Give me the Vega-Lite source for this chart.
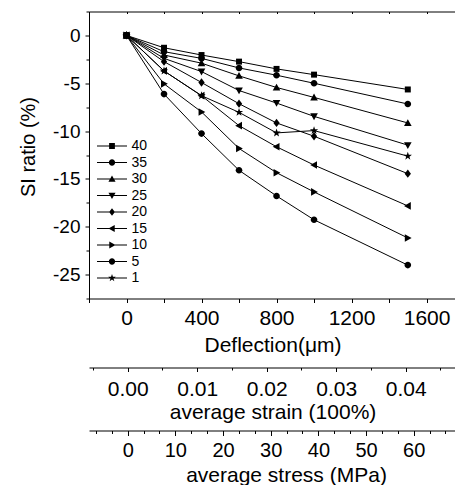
{
  "$schema": "https://vega.github.io/schema/vega-lite/v6.json",
  "padding": {"left": 18, "top": 10.5, "right": 0, "bottom": 6},
  "bounds": "flush",
  "spacing": 62,
  "config": {
    "view": {"stroke": null},
    "font": "Liberation Sans",
    "axis": {"domainColor": "black", "tickColor": "black", "labelColor": "black", "titleColor": "black", "grid": false, "labelFont": "Liberation Sans", "titleFont": "Liberation Sans", "titleFontWeight": "normal", "domainWidth": 1, "tickWidth": 1}
  },
  "datasets": {
    "main": [
      {"s": "40", "d": 0, "r": 0}, {"s": "40", "d": 200, "r": -1.29}, {"s": "40", "d": 400, "r": -2.05}, {"s": "40", "d": 600, "r": -2.74}, {"s": "40", "d": 800, "r": -3.5}, {"s": "40", "d": 1000, "r": -4.1}, {"s": "40", "d": 1500, "r": -5.65},
      {"s": "35", "d": 0, "r": 0}, {"s": "35", "d": 200, "r": -1.7}, {"s": "35", "d": 400, "r": -2.4}, {"s": "35", "d": 600, "r": -3.4}, {"s": "35", "d": 800, "r": -4.16}, {"s": "35", "d": 1000, "r": -5.0}, {"s": "35", "d": 1500, "r": -7.17},
      {"s": "30", "d": 0, "r": 0}, {"s": "30", "d": 200, "r": -2.05}, {"s": "30", "d": 400, "r": -2.9}, {"s": "30", "d": 600, "r": -4.23}, {"s": "30", "d": 800, "r": -5.44}, {"s": "30", "d": 1000, "r": -6.48}, {"s": "30", "d": 1500, "r": -9.15},
      {"s": "25", "d": 0, "r": 0}, {"s": "25", "d": 200, "r": -2.4}, {"s": "25", "d": 400, "r": -3.78}, {"s": "25", "d": 600, "r": -5.76}, {"s": "25", "d": 800, "r": -7.07}, {"s": "25", "d": 1000, "r": -8.46}, {"s": "25", "d": 1500, "r": -11.47},
      {"s": "20", "d": 0, "r": 0}, {"s": "20", "d": 200, "r": -2.74}, {"s": "20", "d": 400, "r": -4.92}, {"s": "20", "d": 600, "r": -7.14}, {"s": "20", "d": 800, "r": -9.15}, {"s": "20", "d": 1000, "r": -10.54}, {"s": "20", "d": 1500, "r": -14.45},
      {"s": "15", "d": 0, "r": 0}, {"s": "15", "d": 200, "r": -3.71}, {"s": "15", "d": 400, "r": -6.3}, {"s": "15", "d": 600, "r": -9.43}, {"s": "15", "d": 800, "r": -11.64}, {"s": "15", "d": 1000, "r": -13.55}, {"s": "15", "d": 1500, "r": -17.82},
      {"s": "10", "d": 0, "r": 0}, {"s": "10", "d": 200, "r": -5.06}, {"s": "10", "d": 400, "r": -8.0}, {"s": "10", "d": 600, "r": -11.82}, {"s": "10", "d": 800, "r": -14.35}, {"s": "10", "d": 1000, "r": -16.36}, {"s": "10", "d": 1500, "r": -21.17},
      {"s": "5", "d": 0, "r": 0}, {"s": "5", "d": 200, "r": -6.13}, {"s": "5", "d": 400, "r": -10.26}, {"s": "5", "d": 600, "r": -14.1}, {"s": "5", "d": 800, "r": -16.78}, {"s": "5", "d": 1000, "r": -19.27}, {"s": "5", "d": 1500, "r": -24.01},
      {"s": "1", "d": 0, "r": 0}, {"s": "1", "d": 200, "r": -3.71}, {"s": "1", "d": 400, "r": -6.3}, {"s": "1", "d": 600, "r": -8.04}, {"s": "1", "d": 800, "r": -10.19}, {"s": "1", "d": 1000, "r": -9.95}, {"s": "1", "d": 1500, "r": -12.62}
    ],
    "strain": [{"v": 0}, {"v": 0.04}],
    "stress": [{"v": 0}, {"v": 60}]
  },
  "vconcat": [
    {
      "width": 367,
      "height": 287,
      "data": {"name": "main"},
      "encoding": {
        "y": {
          "field": "r", "type": "quantitative",
          "scale": {"domain": [-27.5, 2.5], "nice": false, "zero": false},
          "axis": {
            "orient": "left",
            "values": [2.5, 0, -2.5, -5, -7.5, -10, -12.5, -15, -17.5, -20, -22.5, -25, -27.5],
            "labelExpr": "datum.value % 5 === 0 ? (datum.value < 0 ? '-' + abs(datum.value) : '' + datum.value) : ''",
            "tickSize": {"condition": {"test": "datum.value % 5 === 0", "value": 4}, "value": 3},
            "labelFontSize": 19,
            "labelPadding": 5,
            "title": "SI ratio (%)",
            "titleFontSize": 20,
            "titleX": -54.5,
            "titleY": 135,
            "titleBaseline": "alphabetic"
          }
        }
      },
      "layer": [
        {
          "mark": {"type": "line", "color": "black", "strokeWidth": 1},
          "encoding": {
            "x": {
              "field": "d", "type": "quantitative",
              "scale": {"domain": [-200, 1757], "nice": false, "zero": false},
              "axis": {
                "orient": "bottom",
                "values": [-200, 0, 200, 400, 600, 800, 1000, 1200, 1400, 1600],
                "labelExpr": "datum.value % 400 === 0 ? '' + datum.value : ''",
                "tickSize": 4,
                "labelFontSize": 21,
                "labelPadding": 4.5,
                "title": "Deflection(μm)",
                "titleFontSize": 21,
                "titleBaseline": "alphabetic",
                "titleY": 52.5
              }
            },
            "detail": {"field": "s"}
          }
        },
        {
          "mark": {"type": "point", "filled": true, "color": "black", "opacity": 1, "size": 44},
          "encoding": {
            "x": {
              "field": "d", "type": "quantitative",
              "axis": {
                "orient": "top",
                "values": [-200, 0, 200, 400, 600, 800, 1000, 1200, 1400, 1600],
                "labels": false,
                "tickSize": -2,
                "title": null
              }
            },
            "shape": {
              "field": "s", "type": "nominal",
              "scale": {
                "domain": ["40", "35", "30", "25", "20", "15", "10", "5", "1"],
                "range": [
                  "M-0.9,-0.9H0.9V0.9H-0.9Z",
                  "M1,0A1,1,0,1,1,-1,0A1,1,0,1,1,1,0Z",
                  "M0,-1.15L1.15,0.9H-1.15Z",
                  "M0,1.15L-1.15,-0.9H1.15Z",
                  "M0,-1.25L0.95,0L0,1.25L-0.95,0Z",
                  "M-1.15,0L0.9,-1.15V1.15Z",
                  "M1.15,0L-0.9,1.15V-1.15Z",
                  "M1,0A1,1,0,1,1,-1,0A1,1,0,1,1,1,0Z",
                  "M0,-1.3L0.306,-0.421L1.236,-0.402L0.495,0.161L0.764,1.052L0,0.52L-0.764,1.052L-0.495,0.161L-1.236,-0.402L-0.306,-0.421Z"
                ]
              },
              "legend": null
            }
          }
        },
        {
          "transform": [{"filter": "false"}],
          "mark": {"type": "point", "filled": true, "color": "black", "opacity": 1, "size": 289},
          "encoding": {
            "shape": {
              "field": "s", "type": "nominal",
              "scale": {
                "domain": ["40", "35", "30", "25", "20", "15", "10", "5", "1"],
                "range": [
                  "M-1.765,-0.06H1.765V0.06H-1.765ZM-0.34,-0.34H0.34V0.34H-0.34Z",
                  "M-1.765,-0.06H1.765V0.06H-1.765ZM0.37,0A0.37,0.37,0,1,1,-0.37,0A0.37,0.37,0,1,1,0.37,0Z",
                  "M-1.765,-0.06H1.765V0.06H-1.765ZM0,-0.42L0.42,0.32H-0.42Z",
                  "M-1.765,-0.06H1.765V0.06H-1.765ZM0,0.42L-0.42,-0.32H0.42Z",
                  "M-1.765,-0.06H1.765V0.06H-1.765ZM0,-0.45L0.34,0L0,0.45L-0.34,0Z",
                  "M-1.765,-0.06H1.765V0.06H-1.765ZM-0.42,0L0.32,-0.42V0.42Z",
                  "M-1.765,-0.06H1.765V0.06H-1.765ZM0.42,0L-0.32,0.42V-0.42Z",
                  "M-1.765,-0.06H1.765V0.06H-1.765ZM0.37,0A0.37,0.37,0,1,1,-0.37,0A0.37,0.37,0,1,1,0.37,0Z",
                  "M-1.765,-0.06H1.765V0.06H-1.765ZM0,-0.47L0.11,-0.152L0.447,-0.145L0.178,0.058L0.276,0.38L0,0.188L-0.276,0.38L-0.178,0.058L-0.447,-0.145L-0.11,-0.152Z"
                ]
              },
              "legend": {
                "orient": "none",
                "legendX": 0,
                "legendY": 126,
                "title": null,
                "padding": 0,
                "symbolSize": 289,
                "symbolStrokeWidth": 0,
                "symbolFillColor": "black",
                "symbolOpacity": 1,
                "symbolOffset": 14.5,
                "labelFontSize": 14,
                "labelFont": "Liberation Sans",
                "labelColor": "black",
                "labelOffset": 11,
                "rowPadding": 0.5
              }
            }
          }
        }
      ],
      "resolve": {"axis": {"x": "independent"}, "scale": {"shape": "independent"}}
    },
    {
      "width": 367,
      "height": 7,
      "data": {"name": "strain"},
      "mark": {"type": "point", "opacity": 0},
      "encoding": {
        "x": {
          "field": "v", "type": "quantitative",
          "scale": {"domain": [-0.00557, 0.04724], "nice": false, "zero": false},
          "axis": {
            "orient": "bottom",
            "values": [-0.005, 0, 0.005, 0.01, 0.015, 0.02, 0.025, 0.03, 0.035, 0.04, 0.045],
            "labelExpr": "round(datum.value * 1000) % 10 === 0 ? format(datum.value, '.2f') : ''",
            "tickSize": {"condition": {"test": "round(datum.value * 1000) % 10 === 0", "value": 4}, "value": 2.5},
            "labelFontSize": 21,
            "labelPadding": 6.5,
            "title": "average strain (100%)",
            "titleFontSize": 21,
            "titleBaseline": "alphabetic",
            "titleY": 51
          }
        }
      }
    },
    {
      "width": 367,
      "height": 1,
      "data": {"name": "stress"},
      "mark": {"type": "point", "opacity": 0},
      "encoding": {
        "x": {
          "field": "v", "type": "quantitative",
          "scale": {"domain": [-8.12, 68.87], "nice": false, "zero": false},
          "axis": {
            "orient": "bottom",
            "values": [-6.6667, -3.3333, 0, 3.3333, 6.6667, 10, 13.3333, 16.6667, 20, 23.3333, 26.6667, 30, 33.3333, 36.6667, 40, 43.3333, 46.6667, 50, 53.3333, 56.6667, 60, 63.3333, 66.6667],
            "labelExpr": "abs(datum.value - round(datum.value / 10) * 10) < 0.01 ? '' + round(datum.value) : ''",
            "tickSize": {"condition": {"test": "abs(datum.value - round(datum.value / 10) * 10) < 0.01", "value": 5}, "value": 3},
            "labelFontSize": 20,
            "labelPadding": 4.5,
            "title": "average stress (MPa)",
            "titleFontSize": 21,
            "titleBaseline": "alphabetic",
            "titleY": 51,
            "titleX": 197
          }
        }
      }
    }
  ]
}
